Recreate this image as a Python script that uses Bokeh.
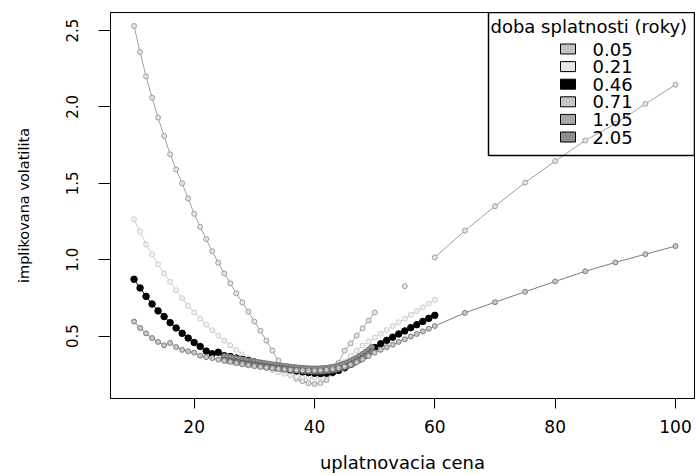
from bokeh.plotting import figure
from bokeh.models import (FixedTicker, Range1d, BoxAnnotation, Label, ColumnDataSource,
                          PrintfTickFormatter)
from bokeh.embed import file_html
from bokeh.resources import INLINE

nan = float("nan")

# ---------------- data ----------------
maturities = ["0.05", "0.21", "0.46", "0.71", "1.05", "2.05"]

x_ticks = [20, 40, 60, 80, 100]
y_ticks = [0.5, 1.0, 1.5, 2.0, 2.5]

strike_005 = [10, 11, 12, 13, 14, 15, 16, 17, 18, 19, 20, 21, 22, 23, 24, 25, 26, 27, 28, 29,
              30, 31, 32, 33, 34, 35, 36, 37, 38, 39, 40, 41, 42, 43, 44, 45, 46, 47, 48, 49, 50,
              nan, 55, nan, 60, 65, 70, 75, 80, 85, 90, 95, 100]
iv_005 = [2.53, 2.36, 2.20, 2.06, 1.93, 1.81, 1.69, 1.59, 1.50, 1.40, 1.30, 1.215, 1.135, 1.055,
          0.98, 0.91, 0.845, 0.78, 0.72, 0.66, 0.595, 0.535, 0.47, 0.405, 0.34, 0.285, 0.245,
          0.22, 0.205, 0.192, 0.186, 0.192, 0.212, 0.255, 0.325, 0.405, 0.452, 0.503, 0.551,
          0.602, 0.655,
          nan, 0.827, nan, 1.015, 1.19, 1.35, 1.505, 1.645, 1.78, 1.89, 2.02, 2.145]

strike_021 = [10, 11, 12, 13, 14, 15, 16, 17, 18, 19, 20, 21, 22, 23, 24, 25, 26, 27, 28, 29,
              30, 31, 32, 33, 34, 35, 36, 37, 38, 39, 40, 41, 42, 43, 44, 45, 46, 47, 48, 49,
              50, 51, 52, 53, 54, 55, 56, 57, 58, 59, 60]
iv_021 = [1.265, 1.185, 1.10, 1.035, 0.97, 0.91, 0.855, 0.80, 0.748, 0.698, 0.655, 0.615, 0.575,
          0.538, 0.503, 0.47, 0.44, 0.41, 0.38, 0.352, 0.33, 0.31, 0.292, 0.277, 0.264, 0.253,
          0.244, 0.237, 0.232, 0.228, 0.227, 0.231, 0.242, 0.262, 0.292, 0.33, 0.37, 0.405,
          0.438, 0.464, 0.49, 0.515, 0.54, 0.566, 0.59, 0.614, 0.639, 0.664, 0.688, 0.713, 0.738]

strike_046 = [10, 11, 12, 13, 14, 15, 16, 17, 18, 19, 20, 21, 22, 23, 24, 25, 26, 27, 28, 29,
              30, 31, 32, 33, 34, 35, 36, 37, 38, 39, 40, 41, 42, 43, 44, 45, 46, 47, 48, 49,
              50, 51, 52, 53, 54, 55, 56, 57, 58, 59, 60]
iv_046 = [0.872, 0.815, 0.76, 0.71, 0.665, 0.628, 0.588, 0.553, 0.518, 0.487, 0.458, 0.432,
          0.402, 0.384, 0.394, 0.372, 0.366, 0.356, 0.348, 0.340, 0.330, 0.321, 0.311, 0.302,
          0.294, 0.286, 0.279, 0.272, 0.266, 0.261, 0.257, 0.255, 0.257, 0.263, 0.275, 0.292,
          0.315, 0.342, 0.37, 0.398, 0.425, 0.45, 0.472, 0.493, 0.514, 0.534, 0.555, 0.575,
          0.596, 0.616, 0.636]

strike_071 = [25.0, 25.5, 26.0, 26.5, 27.0, 27.5, 28.0, 28.5, 29.0, 29.5, 30.0, 30.5, 31.0, 31.5,
              32.0, 32.5, 33.0, 33.5, 34.0, 34.5, 35.0, 35.5, 36.0, 36.5, 37.0, 37.5, 38.0, 38.5,
              39.0, 39.5, 40.0, 40.5, 41.0, 41.5, 42.0, 42.5, 43.0, 43.5, 44.0, 44.5, 45.0, 45.5,
              46.0, 46.5, 47.0, 47.5, 48.0, 48.5, 49.0, 49.5]
iv_071 = [0.368, 0.364, 0.361, 0.357, 0.353, 0.350, 0.346, 0.343, 0.339, 0.336, 0.333, 0.329,
          0.326, 0.323, 0.320, 0.317, 0.314, 0.311, 0.308, 0.306, 0.303, 0.301, 0.298, 0.296,
          0.294, 0.292, 0.291, 0.289, 0.288, 0.287, 0.287, 0.287, 0.288, 0.289, 0.291, 0.294,
          0.297, 0.301, 0.306, 0.312, 0.319, 0.327, 0.336, 0.346, 0.357, 0.369, 0.382, 0.396,
          0.411, 0.427]

strike_105 = [25.0, 25.5, 26.0, 26.5, 27.0, 27.5, 28.0, 28.5, 29.0, 29.5, 30.0, 30.5, 31.0, 31.5,
              32.0, 32.5, 33.0, 33.5, 34.0, 34.5, 35.0, 35.5, 36.0, 36.5, 37.0, 37.5, 38.0, 38.5,
              39.0, 39.5, 40.0, 40.5, 41.0, 41.5, 42.0, 42.5, 43.0, 43.5, 44.0, 44.5, 45.0, 45.5,
              46.0, 46.5, 47.0, 47.5, 48.0, 48.5, 49.0, 49.5]
iv_105 = [0.344, 0.341, 0.338, 0.335, 0.331, 0.328, 0.325, 0.322, 0.319, 0.316, 0.313, 0.310,
          0.307, 0.304, 0.301, 0.299, 0.296, 0.293, 0.291, 0.288, 0.286, 0.283, 0.281, 0.279,
          0.277, 0.275, 0.273, 0.272, 0.270, 0.269, 0.268, 0.268, 0.268, 0.269, 0.271, 0.273,
          0.276, 0.280, 0.285, 0.290, 0.297, 0.304, 0.313, 0.322, 0.333, 0.344, 0.357, 0.370,
          0.384, 0.399]

strike_205 = [10, 11, 12, 13, 14, 15, 16, 17, 18, 19, 20, 21, 22, 23, 24, 25, 26, 27, 28, 29,
              30, 31, 32, 33, 34, 35, 36, 37, 38, 39, 40, 41, 42, 43, 44, 45, 46, 47, 48, 49,
              50, 51, 52, 53, 54, 55, 56, 57, 58, 59, 60, 65, 70, 75, 80, 85, 90, 95, 100]
iv_205 = [0.595, 0.553, 0.518, 0.487, 0.462, 0.44, 0.455, 0.428, 0.41, 0.40, 0.392, 0.372,
          0.362, 0.356, 0.346, 0.338, 0.331, 0.323, 0.316, 0.309, 0.303, 0.298, 0.293, 0.289,
          0.285, 0.282, 0.279, 0.277, 0.276, 0.275, 0.275, 0.276, 0.279, 0.284, 0.291, 0.30,
          0.313, 0.329, 0.348, 0.37, 0.392, 0.41, 0.427, 0.444, 0.462, 0.479, 0.497, 0.514,
          0.531, 0.548, 0.566, 0.652, 0.722, 0.79, 0.858, 0.924, 0.982, 1.036, 1.089]

strikes = [strike_005, strike_021, strike_046, strike_071, strike_105, strike_205]
vols = [iv_005, iv_021, iv_046, iv_071, iv_105, iv_205]

# ---------------- style ----------------
line_colors = ["#a0a0a0", "#cdcdcd", "#000000", "#707070", "#5e5e5e", "#7e7e7e"]
fill_colors = ["#e4e4e4", "#f2f2f2", "#000000", "#989898", "#848484", "#c8c8c8"]
swatch_colors = ["#c2c2c2", "#e6e6e6", "#000000", "#c6c6c6", "#a8a8a8", "#8e8e8e"]
marker_sizes = [5, 5, 6.5, 5.5, 5.5, 5]
FONT = "DejaVu Sans"

W, H = 696, 475
FL, FR, FT, FB = 110, 694, 12, 398
X_LO, X_HI = 6.09, 103.16
Y_LO, Y_HI = 0.0915, 2.618

p = figure(width=W, height=H, output_backend="svg", toolbar_location=None,
           x_range=Range1d(X_LO, X_HI), y_range=Range1d(Y_LO, Y_HI),
           min_border_left=FL, min_border_right=W - FR,
           min_border_top=FT, min_border_bottom=H - FB,
           x_axis_label="uplatnovacia cena", y_axis_label="implikovana volatilita")

p.background_fill_color = "white"
p.border_fill_color = "white"
p.outline_line_color = "black"
p.outline_line_width = 1
p.xgrid.grid_line_color = None
p.ygrid.grid_line_color = None

p.xaxis.ticker = FixedTicker(ticks=x_ticks)
p.yaxis.ticker = FixedTicker(ticks=y_ticks)
p.yaxis.formatter = PrintfTickFormatter(format="%.1f")
for ax in (p.xaxis[0], p.yaxis[0]):
    ax.axis_line_color = "black"
    ax.axis_line_width = 1
    ax.major_tick_line_color = "black"
    ax.major_tick_line_width = 1
    ax.minor_tick_line_color = None
    ax.major_tick_in = 0
    ax.major_label_text_font = FONT
    ax.major_label_text_color = "black"
    ax.axis_label_text_font = FONT
    ax.axis_label_text_font_style = "normal"
    ax.axis_label_text_color = "black"

p.xaxis.major_tick_out = 10
p.xaxis.major_label_standoff = 11
p.xaxis.major_label_text_font_size = "17px"
p.xaxis.axis_label_text_font_size = "18px"
p.xaxis.axis_label_standoff = 16

p.yaxis.major_tick_out = 12
p.yaxis.major_label_orientation = "vertical"
p.yaxis.major_label_standoff = 20
p.yaxis.major_label_text_font_size = "15px"
p.yaxis.axis_label_text_font_size = "14.5px"
p.yaxis.axis_label_standoff = 32

for xs, ys, lc, fc, ms in zip(strikes, vols, line_colors, fill_colors, marker_sizes):
    src = ColumnDataSource(data=dict(x=xs, y=ys))
    p.line("x", "y", source=src, line_color=lc, line_width=1)
    p.scatter("x", "y", source=src, marker="circle", size=ms,
              fill_color=fc, line_color=lc, line_width=1)


# ---------------- legend (drawn by hand, R style) ----------------
def px2x(px):
    return X_LO + (px - FL) / (FR - FL) * (X_HI - X_LO)


def px2y(py):
    return Y_HI - (py - FT) / (FB - FT) * (Y_HI - Y_LO)


p.add_layout(BoxAnnotation(left=px2x(488), right=px2x(FR), top=px2y(FT), bottom=px2y(155),
                           fill_alpha=0, line_color="black", line_alpha=1, line_width=1.5))
p.add_layout(Label(x=px2x(490), y=px2y(26), text="doba splatnosti (roky)",
                   text_font=FONT, text_font_size="18px", text_color="black",
                   text_align="left", text_baseline="middle"))
row0, row_step = 48.5, 17.6
for i, (lab, sc) in enumerate(zip(maturities, swatch_colors)):
    cy = row0 + i * row_step
    p.add_layout(BoxAnnotation(left=px2x(560), right=px2x(575), top=px2y(cy - 5),
                               bottom=px2y(cy + 5), fill_color=sc, fill_alpha=1,
                               line_color="black", line_alpha=1, line_width=1))
    p.add_layout(Label(x=px2x(592), y=px2y(cy), text=lab, text_font=FONT,
                       text_font_size="18px", text_color="black",
                       text_align="left", text_baseline="middle"))

open("out.html", "w").write(file_html(p, INLINE))
